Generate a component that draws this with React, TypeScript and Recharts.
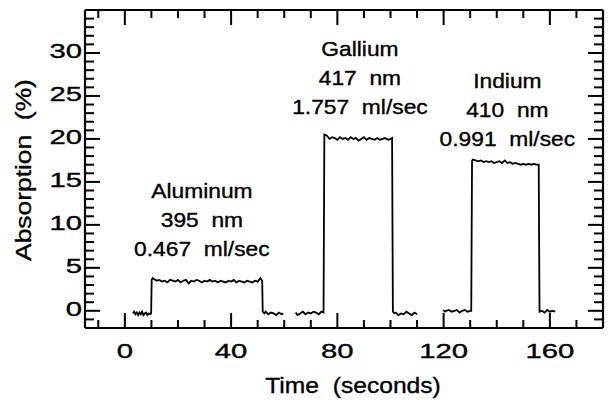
import React from 'react';
import { LineChart, Line, XAxis, YAxis, ReferenceDot, Customized } from 'recharts';

// ---- axes ----
const timeTicks = [-10, 0, 10, 20, 30, 40, 50, 60, 70, 80, 90, 100, 110, 120, 130, 140, 150, 160, 170];
const timeLabels = [0, 40, 80, 120, 160];
const absorptionTicks = [-2, -1, 0, 1, 2, 3, 4, 5, 6, 7, 8, 9, 10, 11, 12, 13, 14, 15, 16, 17, 18, 19, 20, 21, 22, 23, 24, 25, 26, 27, 28, 29, 30, 31, 32, 33, 34, 35];
const absorptionLabels = [0, 5, 10, 15, 20, 25, 30];
const timeDomain = [-15, 180];
const absorptionDomain = [-2, 35];

// ---- traces: [seconds, absorption %] ----
const aluminumTrace: [number, number][] = [
  [3, -0.3], [3.5, -0.1], [4, -0.4], [4.5, -0.2], [5, -0.5], [5.5, -0.2], [6, -0.4], [6.5, -0.1], [7, -0.5], [7.5, -0.3],
  [8, -0.2], [8.5, -0.5], [9, -0.3], [9.5, -0.4], [9.9, -0.3],
  [10.1, 3.6], [10.5, 3.8], [11, 3.7], [12, 3.5], [13, 3.6], [14, 3.4], [15, 3.5], [16, 3.3], [17, 3.6], [18, 3.5], [19, 3.4],
  [20, 3.6], [21, 3.3], [22, 3.5], [23, 3.6], [24, 3.2], [25, 3.5], [26, 3.4], [27, 3.6], [28, 3.5], [29, 3.3],
  [30, 3.5], [31, 3.4], [32, 3.6], [33, 3.4], [34, 3.5], [35, 3.3], [36, 3.5], [37, 3.4], [38, 3.3], [39, 3.5],
  [40, 3.4], [41, 3.6], [42, 3.3], [43, 3.5], [44, 3.4], [45, 3.3], [46, 3.5], [47, 3.4], [48, 3.3], [49, 3.5],
  [50, 3.4], [51, 3.8], [51.7, 3.5],
  [51.9, -0.1], [52.5, -0.3], [53, -0.1], [54, -0.4], [55, -0.2], [56, -0.3], [57, -0.5], [58, -0.2], [59, -0.4], [59.6, -0.3],
];

const galliumTrace: [number, number][] = [
  [64.3, -0.2], [65, -0.5], [66, -0.3], [67, -0.1], [68, -0.4], [69, -0.2], [70, -0.3], [71, -0.1], [72, -0.2], [73, -0.4],
  [74, -0.1], [74.8, -0.2],
  [75.1, 20.5], [76, 20.4], [77, 20.0], [78, 20.2], [79, 20.1], [80, 19.9], [81, 20.2], [82, 20.0], [83, 20.1], [84, 19.9],
  [85, 20.2], [86, 20.0], [87, 20.1], [88, 19.8], [89, 20.0], [90, 20.2], [91, 19.9], [92, 20.1], [93, 20.0], [94, 19.9],
  [95, 20.1], [96, 19.9], [97, 20.0], [98, 20.1], [99, 19.9], [100, 20.0], [100.6, 20.1],
  [100.9, -0.1], [101.5, -0.3], [102, -0.2], [103, -0.5], [104, -0.3], [105, -0.4], [106, -0.1], [107, -0.3], [108, -0.5],
  [109, -0.2], [110, -0.4],
];

const indiumTrace: [number, number][] = [
  [119.8, 0.1], [120.5, -0.1], [121, 0.0], [122, 0.1], [123, -0.1], [124, 0.0], [125, 0.1], [126, -0.2], [127, 0.0],
  [128, 0.1], [129, -0.1], [130, 0.0], [130.4, 0.0],
  [130.7, 17.4], [131, 17.6], [132, 17.5], [133, 17.4], [134, 17.5], [135, 17.3], [136, 17.4], [137, 17.3], [138, 17.4],
  [139, 17.2], [140, 17.3], [141, 17.4], [142, 17.2], [143, 17.5], [144, 17.2], [145, 17.3], [146, 17.1], [147, 17.2],
  [148, 17.1], [149, 17.0], [150, 17.1], [151, 17.0], [152, 17.1], [153, 17.0], [154, 17.1], [155, 17.0], [155.8, 17.0],
  [156.1, -0.1], [157, 0.0], [158, -0.2], [159, 0.1], [160, -0.1], [161, 0.0], [162, -0.1],
];

// ---- annotations ----
const annotationLines = [
  ['Aluminum', '395  nm', '0.467  ml/sec'],
  ['Gallium', '417  nm', '1.757  ml/sec'],
  ['Indium', '410  nm', '0.991  ml/sec'],
];
const annotationAnchors = [
  { t: 29, a: 13.1 },
  { t: 88.5, a: 29.6 },
  { t: 144, a: 25.9 },
];

const toRows = (trace: [number, number][]) => trace.map(([t, a]) => ({ t, a }));

const FONT = '"Liberation Sans", Arial, Helvetica, sans-serif';
const TEXT_WEIGHT = { stroke: '#000', strokeWidth: 0.35 };

const BottomTick = (props: any) => {
  const { x, y, payload } = props;
  const v = payload.value;
  const major = timeLabels.includes(v);
  return (
    <g>
      <line x1={x} x2={x} y1={y} y2={y - (major ? 15 : 8)} stroke="#000" strokeWidth={2} />
      {major && (
        <text transform={`translate(${x},${y + 30}) scale(1.5,1)`} textAnchor="middle" fontSize={19.5} fontFamily={FONT} fill="#000" {...TEXT_WEIGHT}>
          {v}
        </text>
      )}
    </g>
  );
};

const TopTick = (props: any) => {
  const { x, y, payload } = props;
  const major = timeLabels.includes(payload.value);
  return <line x1={x} x2={x} y1={y} y2={y + (major ? 15 : 8)} stroke="#000" strokeWidth={2} />;
};

const LeftTick = (props: any) => {
  const { x, y, payload } = props;
  const v = payload.value;
  const major = v % 5 === 0;
  const labelled = absorptionLabels.includes(v);
  return (
    <g>
      <line x1={x} x2={x + (major ? 15 : 9)} y1={y} y2={y} stroke="#000" strokeWidth={2} />
      {labelled && (
        <text transform={`translate(${x - 3},${y + 5}) scale(1.5,1)`} textAnchor="end" fontSize={19.5} fontFamily={FONT} fill="#000" {...TEXT_WEIGHT}>
          {v}
        </text>
      )}
    </g>
  );
};

const RightTick = (props: any) => {
  const { x, y, payload } = props;
  const major = payload.value % 5 === 0;
  return <line x1={x} x2={x - (major ? 15 : 9)} y1={y} y2={y} stroke="#000" strokeWidth={2} />;
};

const makeAnnotation = (lines: string[]) => (props: any) => {
  const { cx, cy } = props;
  return (
    <g>
      {lines.map((s, i) => (
        <text
          key={i}
          transform={`translate(${cx},${cy + i * 28.8}) scale(1.14,1)`}
          textAnchor="middle"
          fontSize={20}
          fontFamily={FONT}
          fill="#000"
          {...TEXT_WEIGHT}
          style={{ whiteSpace: 'pre' }}
        >
          {s}
        </text>
      ))}
    </g>
  );
};

const Titles = () => (
  <g>
    <text
      transform="translate(353,393) scale(1.12,1)"
      textAnchor="middle"
      fontSize={22}
      fontFamily={FONT}
      fill="#000"
      {...TEXT_WEIGHT}
      style={{ whiteSpace: 'pre' }}
    >
      {'Time  (seconds)'}
    </text>
    <text
      transform="translate(31,170) rotate(-90) scale(1.2,1)"
      textAnchor="middle"
      fontSize={22}
      fontFamily={FONT}
      fill="#000"
      {...TEXT_WEIGHT}
      style={{ whiteSpace: 'pre' }}
    >
      {'Absorption  (%)'}
    </text>
  </g>
);

const axisLine = { stroke: '#000', strokeWidth: 2.2 };

export default function App() {
  return (
    <div style={{ position: 'absolute', left: 0, top: 0, width: 616, height: 400, background: '#fff' }}>
      <LineChart width={616} height={400} margin={{ top: 8, right: 11, bottom: 42, left: 45 }}>
        <XAxis
          xAxisId={0}
          type="number"
          dataKey="t"
          domain={timeDomain}
          allowDataOverflow
          ticks={timeTicks}
          interval={0}
          height={30}
          tickSize={0}
          tickMargin={0}
          tickLine={false}
          axisLine={axisLine}
          tick={<BottomTick />}
          orientation="bottom"
        />
        <XAxis
          xAxisId="top"
          type="number"
          dataKey="t"
          domain={timeDomain}
          allowDataOverflow
          ticks={timeTicks}
          interval={0}
          height={2}
          tickSize={0}
          tickMargin={0}
          tickLine={false}
          axisLine={axisLine}
          tick={<TopTick />}
          orientation="top"
        />
        <YAxis
          yAxisId={0}
          type="number"
          domain={absorptionDomain}
          allowDataOverflow
          ticks={absorptionTicks}
          interval={0}
          width={40}
          tickSize={0}
          tickMargin={0}
          tickLine={false}
          axisLine={axisLine}
          tick={<LeftTick />}
          orientation="left"
        />
        <YAxis
          yAxisId="right"
          type="number"
          domain={absorptionDomain}
          allowDataOverflow
          ticks={absorptionTicks}
          interval={0}
          width={2}
          tickSize={0}
          tickMargin={0}
          tickLine={false}
          axisLine={axisLine}
          tick={<RightTick />}
          orientation="right"
        />
        <Line data={toRows(aluminumTrace)} dataKey="a" type="linear" stroke="#000" strokeWidth={1.8} dot={false} isAnimationActive={false} />
        <Line data={toRows(galliumTrace)} dataKey="a" type="linear" stroke="#000" strokeWidth={1.8} dot={false} isAnimationActive={false} />
        <Line data={toRows(indiumTrace)} dataKey="a" type="linear" stroke="#000" strokeWidth={1.8} dot={false} isAnimationActive={false} />
        {annotationAnchors.map((p, i) => (
          <ReferenceDot key={i} x={p.t} y={p.a} r={0} shape={makeAnnotation(annotationLines[i])} />
        ))}
        <Customized component={Titles} />
      </LineChart>
    </div>
  );
}
